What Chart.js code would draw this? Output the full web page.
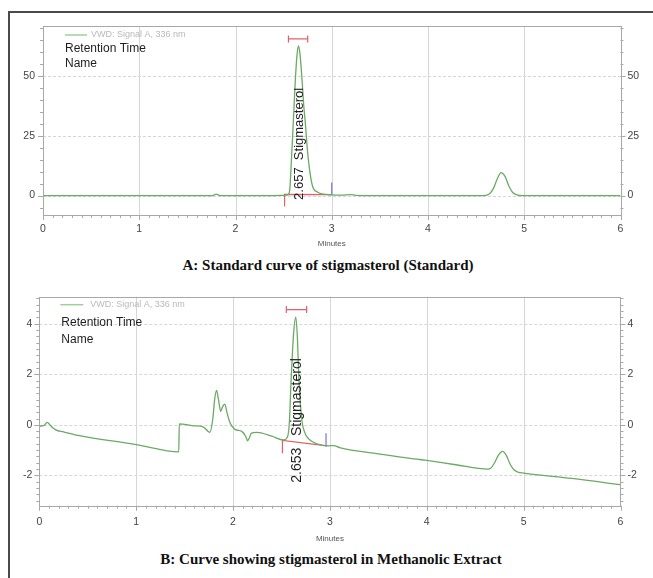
<!DOCTYPE html>
<html><head><meta charset="utf-8">
<script src="https://cdn.jsdelivr.net/npm/chart.js@4/dist/chart.umd.min.js"></script>
<style>
html,body{margin:0;padding:0;background:#fff;width:653px;height:578px;overflow:hidden;position:relative;}
#frame{position:absolute;left:8px;top:11px;width:700px;height:620px;border-left:2px solid #4a4a4a;border-top:2px solid #4a4a4a;}
canvas{position:absolute;left:0;}
#cA{top:0;}
#cB{top:280px;}
.cap{position:absolute;font-family:"Liberation Serif","Times New Roman",serif;font-weight:bold;font-size:15px;color:#111;white-space:nowrap;transform:translateX(-50%);}
</style></head>
<body>
<div id="frame"></div>
<canvas id="cA" width="653" height="250"></canvas>
<canvas id="cB" width="653" height="265"></canvas>
<div class="cap" style="left:328px;top:257px;">A: Standard curve of stigmasterol (Standard)</div>
<div class="cap" style="left:331px;top:551px;">B: Curve showing stigmasterol in Methanolic Extract</div>
<script>
// ---------- DATA ----------
const xTickLabels = [0, 1, 2, 3, 4, 5, 6];
const yTickLabelsA = [0, 25, 50];
const yTickLabelsB = [-2, 0, 2, 4];

const timesA  = [0, 0.5, 1.0, 1.5, 1.76, 1.8, 1.84, 2.0, 2.4, 2.5, 2.55, 2.565, 2.58, 2.6, 2.62, 2.64, 2.655, 2.67, 2.69, 2.71, 2.724, 2.75, 2.8, 2.85, 2.9, 3.0, 3.1, 3.2, 3.25, 3.4, 4.0, 4.58, 4.64, 4.68, 4.72, 4.76, 4.8, 4.84, 4.88, 4.93, 4.98, 5.5, 6.0];
const signalA = [0, 0, 0, 0, 0, 0.6, 0, 0, 0, 0.1, 0.5, 3, 14, 30, 47, 59, 62.4, 59, 49, 37, 31, 17.7, 4, 1.5, 0.7, 0.3, 0.2, 0.4, 0.1, 0, 0, 0, 0.8, 3, 7, 9.6, 8, 4, 1.3, 0.2, 0, 0, 0];

const timesB  = [0, 0.05, 0.08, 0.12, 0.17, 0.25, 0.4, 1.0, 1.44, 1.445, 1.6, 1.69, 1.74, 1.76, 1.79, 1.81, 1.83, 1.85, 1.873, 1.89, 1.914, 1.94, 1.97, 2.02, 2.09, 2.13, 2.15, 2.17, 2.19, 2.245, 2.4, 2.52, 2.56, 2.58, 2.6, 2.625, 2.648, 2.665, 2.68, 2.71, 2.74, 2.76, 2.8, 2.865, 2.985, 3.04, 3.1, 3.5, 3.9, 4.0, 4.3, 4.63, 4.66, 4.7, 4.74, 4.78, 4.82, 4.86, 4.9, 4.94, 5.0, 5.5, 6.0];
const signalB = [-0.05, -0.02, 0.1, -0.05, -0.2, -0.28, -0.42, -0.78, -1.07, 0.04, -0.04, -0.08, -0.25, -0.3, 0.2, 1.0, 1.36, 1.0, 0.53, 0.7, 0.82, 0.45, 0.07, -0.18, -0.26, -0.45, -0.63, -0.5, -0.33, -0.3, -0.45, -0.6, -0.5, 0.0, 1.8, 3.6, 4.26, 3.4, 1.8, 0.2, -0.3, -0.46, -0.62, -0.75, -0.83, -0.82, -0.9, -1.15, -1.36, -1.41, -1.58, -1.75, -1.72, -1.5, -1.2, -1.05, -1.2, -1.55, -1.78, -1.87, -1.91, -2.12, -2.37];

// integration marks: [start, end, level]
const peakBarA = [2.55, 2.75, 65.3];
const peakBarB = [2.55, 2.76, 4.56];
// baseline: x values and y values
const baseXA = [2.51, 2.51, 3.0];
const baseYA = [-4.6, 0.5, 0.4];
const baseXB = [2.51, 2.51, 2.97];
const baseYB = [-1.12, -0.62, -0.83];
// peak end marker
const endXA = [3.0, 3.0];
const endYA = [0.3, 5.4];
const endXB = [2.96, 2.96];
const endYB = [-0.86, -0.33];
// peak label
const peakLabelA = ["2.657  Stigmasterol", 2.662, -1.8];
const peakLabelB = ["2.653   Stigmasterol", 2.66, -2.29];

const legendText = ["VWD: Signal A, 336 nm", "Retention Time", "Name"];

// ---------- helpers ----------
const FONT = '"Liberation Sans", Arial, sans-serif';
const GREEN = '#6aaa64', RED = '#e0606a', BLUE = '#7373dd';
const pts = (xs, ys) => xs.map((v, i) => ({x: v, y: ys[i]}));

const decor = {
  id: 'decor',
  beforeDatasetsDraw(chart, args, o) {
    const {ctx, chartArea: a, scales: {x, y}} = chart;
    ctx.save();
    ctx.lineWidth = 1;
    ctx.strokeStyle = '#d6d6d6';
    o.xMajor.forEach(v => {
      const px = Math.round(x.getPixelForValue(v)) + 0.5;
      if (px <= a.left + 1 || px >= a.right - 1) return;
      ctx.beginPath(); ctx.moveTo(px, a.top); ctx.lineTo(px, a.bottom); ctx.stroke();
    });
    ctx.setLineDash([3, 2]);
    o.yMajor.forEach(v => {
      const py = Math.round(y.getPixelForValue(v)) + 0.5;
      ctx.beginPath(); ctx.moveTo(a.left, py); ctx.lineTo(a.right, py); ctx.stroke();
    });
    ctx.restore();
  },
  afterDraw(chart, args, o) {
    const {ctx, chartArea: a, scales: {x, y}} = chart;
    ctx.save();
    ctx.strokeStyle = '#a8a8a8';
    ctx.lineWidth = 1;
    ctx.strokeRect(Math.round(a.left) + 0.5, Math.round(a.top) + 0.5, Math.round(a.right - a.left), Math.round(a.bottom - a.top));
    // x ticks
    for (let i = 0; i <= 60; i++) {
      const v = i / 10;
      const px = Math.round(x.getPixelForValue(v)) + 0.5;
      const len = (i % 10 === 0) ? 5 : 3;
      ctx.beginPath(); ctx.moveTo(px, a.bottom); ctx.lineTo(px, a.bottom + len); ctx.stroke();
    }
    // y ticks
    const n0 = Math.ceil(y.min / o.yMinor - 1e-9), n1 = Math.floor(y.max / o.yMinor + 1e-9);
    for (let i = n0; i <= n1; i++) {
      const v = i * o.yMinor;
      const py = Math.round(y.getPixelForValue(v)) + 0.5;
      const major = o.yMajor.some(m => Math.abs(m - v) < 1e-6);
      const len = major ? 5 : 3;
      ctx.beginPath(); ctx.moveTo(a.left, py); ctx.lineTo(a.left - len, py); ctx.stroke();
      ctx.beginPath(); ctx.moveTo(a.right, py); ctx.lineTo(a.right + len, py); ctx.stroke();
    }
    // legend
    const L = o.legend;
    ctx.strokeStyle = '#9fcf9a'; ctx.lineWidth = 1.5;
    ctx.beginPath(); ctx.moveTo(a.left + L.lx0, a.top + L.ly); ctx.lineTo(a.left + L.lx1, a.top + L.ly); ctx.stroke();
    ctx.textBaseline = 'middle'; ctx.textAlign = 'left';
    ctx.fillStyle = '#b9b9b9'; ctx.font = '9px ' + FONT;
    ctx.fillText(legendText[0], a.left + L.tx, a.top + L.ly);
    ctx.fillStyle = '#1e1e1e'; ctx.font = '12px ' + FONT;
    ctx.fillText(legendText[1], a.left + L.rx, a.top + L.ry1);
    ctx.fillText(legendText[2], a.left + L.rx, a.top + L.ry2);
    // peak label (rotated)
    const P = o.peak;
    ctx.translate(x.getPixelForValue(P[1]), y.getPixelForValue(P[2]));
    ctx.rotate(-Math.PI / 2);
    ctx.font = o.peakFont + 'px ' + FONT;
    ctx.fillStyle = '#1e1e1e';
    ctx.textBaseline = 'middle';
    ctx.fillText(P[0], 0, 0);
    ctx.restore();
  }
};

function makeChart(id, cfg) {
  const tickFont = {size: 10.5, family: FONT};
  return new Chart(document.getElementById(id), {
    type: 'line',
    data: {
      datasets: [
        {data: pts(cfg.times, cfg.signal), borderColor: GREEN, borderWidth: 1.3, pointRadius: 0, cubicInterpolationMode: 'monotone', fill: false},
        {data: pts(cfg.baseX, cfg.baseY), borderColor: RED, borderWidth: 1.2, pointRadius: 0, tension: 0, fill: false},
        {data: pts(cfg.endX, cfg.endY), borderColor: BLUE, borderWidth: 1.2, pointRadius: 0, tension: 0, fill: false},
        {data: [{x: cfg.bar[0], y: cfg.bar[2]}, {x: cfg.bar[1], y: cfg.bar[2]}], borderColor: RED, borderWidth: 1.2,
         pointStyle: 'line', rotation: 90, pointRadius: 3.5, pointBorderWidth: 1.2, pointBorderColor: RED, tension: 0, fill: false}
      ]
    },
    options: {
      responsive: false, animation: false, devicePixelRatio: 1,
      layout: {padding: {top: cfg.padTop, left: 0, right: 0, bottom: 0}},
      plugins: {
        legend: {display: false}, tooltip: {enabled: false},
        decor: {xMajor: xTickLabels, yMajor: cfg.yLabels, yMinor: cfg.yMinor, legend: cfg.legend, peak: cfg.peak, peakFont: cfg.peakFont}
      },
      scales: {
        x: {
          type: 'linear', min: 0, max: 6,
          afterBuildTicks: s => { s.ticks = xTickLabels.map(v => ({value: v})); },
          ticks: {autoSkip: false, maxRotation: 0, padding: cfg.xPad, font: tickFont, color: '#444', callback: v => String(v)},
          grid: {display: false, drawTicks: false}, border: {display: false},
          title: {display: true, text: 'Minutes', font: {size: 8, family: FONT}, color: '#555', padding: {top: 0, bottom: cfg.titlePad}},
          afterFit: s => { s.height = cfg.xHeight; }
        },
        y: {
          type: 'linear', position: 'left', min: cfg.yMin, max: cfg.yMax,
          afterBuildTicks: s => { s.ticks = cfg.yLabels.map(v => ({value: v})); },
          ticks: {padding: cfg.yPadL, font: tickFont, color: '#444', callback: v => String(v)},
          grid: {display: false, drawTicks: false}, border: {display: false},
          afterFit: s => { s.width = cfg.leftW; }
        },
        y2: {
          type: 'linear', position: 'right', min: cfg.yMin, max: cfg.yMax,
          afterBuildTicks: s => { s.ticks = cfg.yLabels.map(v => ({value: v})); },
          ticks: {padding: 7, font: tickFont, color: '#444', callback: v => String(v)},
          grid: {display: false, drawTicks: false}, border: {display: false},
          afterFit: s => { s.width = 653 - 620.5; }
        }
      }
    },
    plugins: [decor]
  });
}

makeChart('cA', {
  times: timesA, signal: signalA, baseX: baseXA, baseY: baseYA, endX: endXA, endY: endYA, bar: peakBarA,
  yLabels: yTickLabelsA, yMinor: 5, yMin: -8.1, yMax: 70.7,
  padTop: 26, xHeight: 35, xPad: 8, titlePad: 1, leftW: 43, yPadL: 8,
  legend: {lx0: 22, lx1: 44, ly: 9, tx: 48, rx: 22, ry1: 23, ry2: 38},
  peak: peakLabelA, peakFont: 13
});
makeChart('cB', {
  times: timesB, signal: signalB, baseX: baseXB, baseY: baseYB, endX: endXB, endY: endYB, bar: peakBarB,
  yLabels: yTickLabelsB, yMinor: 0.25, yMin: -3.2, yMax: 5.07,
  padTop: 16.7, xHeight: 39.3, xPad: 10, titlePad: 1, leftW: 39.3, yPadL: 7,
  legend: {lx0: 21, lx1: 44, ly: 8, tx: 51, rx: 22, ry1: 26, ry2: 43},
  peak: peakLabelB, peakFont: 14
});
</script>
</body></html>
